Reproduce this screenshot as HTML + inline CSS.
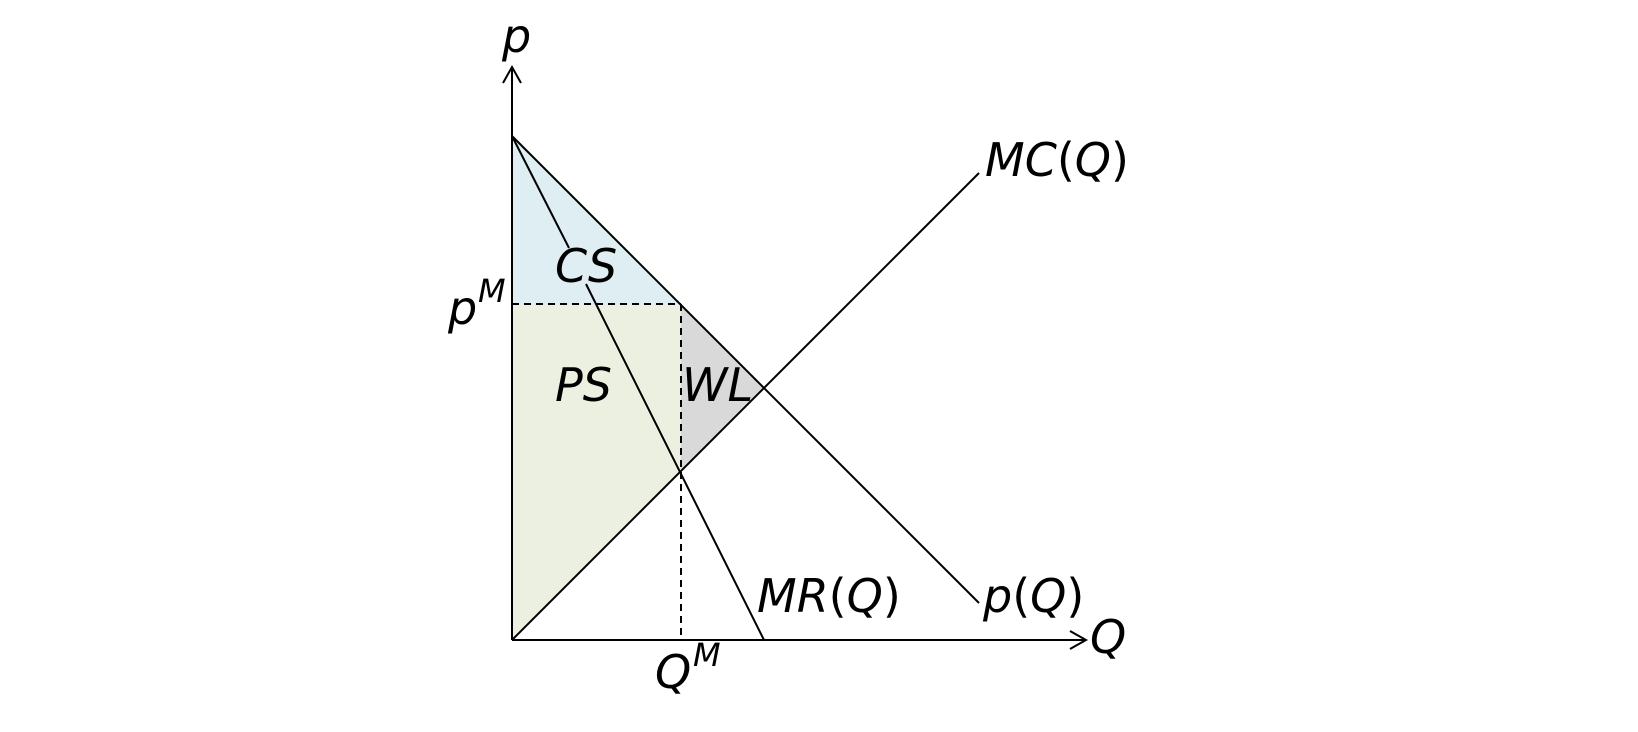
<!DOCTYPE html>
<html><head><meta charset="utf-8"><style>
html,body{margin:0;padding:0;background:#fff;width:1638px;height:732px;overflow:hidden}
text{font-family:"DejaVu Sans","Liberation Sans",sans-serif;font-style:italic;fill:#000}
.u{font-style:normal}
</style></head><body>
<svg width="1638" height="732" viewBox="0 0 1638 732" xmlns="http://www.w3.org/2000/svg">
<polygon points="512,136 681,305 512,305" fill="#dfeef3"/>
<polygon points="512,305 681,305 681,471 512,640" fill="#ecf0e0"/>
<polygon points="681,305 764,388 681,471" fill="#d9d9d9"/>
<g stroke="#000" stroke-width="2" fill="none">
<line x1="512" y1="640" x2="512" y2="67"/>
<polyline points="503,83 512,67 521,83"/>
<line x1="512" y1="640" x2="1086" y2="640"/>
<polyline points="1070,631 1086,640 1070,649"/>
<line x1="512" y1="136" x2="979" y2="603"/>
<line x1="512" y1="640" x2="979" y2="173"/>
<line x1="512" y1="136" x2="569" y2="248"/>
<line x1="586" y1="284" x2="764" y2="640"/>
<g stroke-dasharray="7,5">
<line x1="512" y1="304" x2="681" y2="304"/>
<line x1="681" y1="304" x2="681" y2="640"/>
</g>
</g>
<g font-size="46">
<text x="502" y="52">p</text>
<text x="985" y="176">MC<tspan class="u">(</tspan>Q<tspan class="u">)</tspan></text>
<text x="555" y="282">CS</text>
<text x="555" y="401">PS</text>
<text x="682" y="401">WL</text>
<text x="448" y="324">p</text>
<text x="757" y="612">MR<tspan class="u">(</tspan>Q<tspan class="u">)</tspan></text>
<text x="983" y="612">p<tspan class="u">(</tspan>Q<tspan class="u">)</tspan></text>
<text x="1090" y="653">Q</text>
<text x="655" y="688">Q</text>
</g>
<g font-size="32">
<text x="478" y="302">M</text>
<text x="693" y="666">M</text>
</g>
</svg>
</body></html>
